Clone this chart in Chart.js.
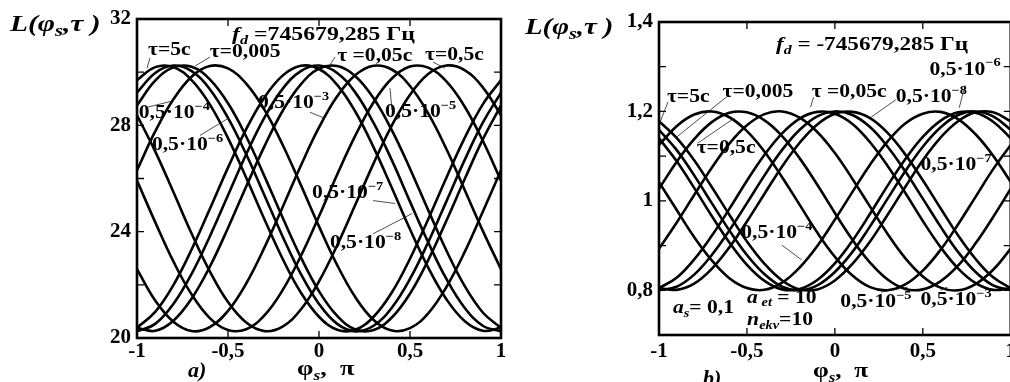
<!DOCTYPE html>
<html><head><meta charset="utf-8">
<script src="https://cdn.jsdelivr.net/npm/chart.js@4"></script>
<style>
html,body{margin:0;padding:0;background:#fff;overflow:hidden;width:1010px;height:382px;position:relative;}
canvas{position:absolute;top:0;}
#ca{left:0;} #cb{left:510px;}
</style></head><body>
<canvas id="ca" width="510" height="382"></canvas>
<canvas id="cb" width="510" height="382"></canvas>
<script>
// ---- data ----
const phi = [-1,-0.9,-0.8,-0.7,-0.6,-0.5,-0.4,-0.3,-0.2,-0.1,0,0.1,0.2,0.3,0.4,0.5,0.6,0.7,0.8,0.9,1];
const tauNames = ['τ=5c','τ=0,5c','τ=0,05c','τ=0,005','0,5·10⁻³','0,5·10⁻⁴','0,5·10⁻⁵','0,5·10⁻⁶','0,5·10⁻⁷','0,5·10⁻⁸'];

// panel a) f_d = 745679,285 Hz
const aTau5    = [29.70,30.19,30.19,29.70,28.79,27.52,26.03,24.47,22.98,21.71,20.80,20.31,20.31,20.80,21.71,22.98,24.47,26.03,27.52,28.79,29.70];
const aTau05   = [28.38,27.02,25.49,23.93,22.51,21.35,20.58,20.26,20.43,21.07,22.13,23.49,25.02,26.57,27.99,29.15,29.93,30.25,30.08,29.43,28.38];
const aTau005  = [20.38,20.27,20.65,21.48,22.68,24.14,25.70,27.21,28.54,29.54,30.13,30.23,29.85,29.02,27.82,26.37,24.81,23.29,21.96,20.96,20.38];
const aTau0005 = [29.23,29.97,30.25,30.04,29.36,28.28,26.91,25.37,23.82,22.41,21.28,20.53,20.25,20.46,21.14,22.22,23.60,25.14,26.69,28.10,29.23];
const aE3      = [22.59,21.41,20.61,20.26,20.41,21.02,22.05,23.40,24.92,26.48,27.92,29.09,29.89,30.24,30.10,29.48,28.45,27.11,25.58,24.03,22.59];
const aE4      = [26.31,27.77,28.98,29.83,30.23,30.14,29.57,28.59,27.27,25.76,24.20,22.74,21.53,20.68,20.28,20.37,20.93,21.92,23.23,24.75,26.31];
const aE5      = [25.92,24.36,22.88,21.64,20.75,20.30,20.33,20.85,21.80,23.08,24.58,26.15,27.62,28.87,29.76,30.21,30.17,29.65,28.71,27.42,25.92];
const aE6      = [28.75,29.68,30.18,30.20,29.73,28.83,27.58,26.09,24.53,23.04,21.76,20.83,20.32,20.30,20.77,21.67,22.93,24.41,25.97,27.47,28.75];
const aE7      = [20.39,20.98,21.99,23.33,24.85,26.41,27.86,29.05,29.87,30.24,30.12,29.52,28.51,27.17,25.65,24.09,22.65,21.46,20.64,20.27,20.39];
const aE8      = [20.25,20.53,21.28,22.41,23.82,25.37,26.91,28.29,29.37,30.04,30.25,29.97,29.23,28.09,26.69,25.13,23.60,22.22,21.14,20.46,20.25];

// panel b) f_d = -745679,285 Hz
const bTau5    = [1.178,1.141,1.091,1.031,0.969,0.909,0.859,0.822,0.802,0.802,0.822,0.859,0.909,0.969,1.031,1.091,1.141,1.178,1.198,1.198,1.178];
const bTau05   = [1.125,1.167,1.193,1.200,1.187,1.156,1.110,1.053,0.991,0.929,0.875,0.833,0.807,0.800,0.813,0.844,0.890,0.947,1.009,1.071,1.125];
const bTau005  = [0.805,0.828,0.869,0.922,0.982,1.045,1.103,1.151,1.184,1.199,1.195,1.172,1.131,1.078,1.018,0.955,0.897,0.849,0.816,0.801,0.805];
const bTau0005 = [1.159,1.114,1.057,0.995,0.934,0.879,0.836,0.808,0.800,0.811,0.841,0.886,0.943,1.005,1.066,1.121,1.164,1.192,1.200,1.189,1.159];
const bE3      = [0.893,0.951,1.013,1.074,1.128,1.169,1.194,1.200,1.186,1.154,1.107,1.049,0.987,0.926,0.872,0.831,0.806,0.800,0.814,0.846,0.893];
const bE4      = [1.042,0.980,0.919,0.867,0.827,0.805,0.801,0.817,0.851,0.899,0.958,1.020,1.081,1.133,1.173,1.195,1.199,1.183,1.149,1.101,1.042];
const bE5      = [1.027,1.087,1.138,1.176,1.197,1.198,1.180,1.145,1.095,1.036,0.973,0.913,0.862,0.824,0.803,0.802,0.820,0.855,0.905,0.964,1.027];
const bE6      = [1.140,1.089,1.029,0.966,0.907,0.857,0.821,0.802,0.803,0.823,0.860,0.911,0.971,1.034,1.093,1.143,1.179,1.198,1.197,1.177,1.140];
const bE7      = [0.805,0.801,0.815,0.848,0.896,0.954,1.016,1.077,1.130,1.171,1.195,1.199,1.185,1.152,1.104,1.046,0.984,0.923,0.870,0.829,0.805];
const bE8      = [0.800,0.808,0.835,0.879,0.934,0.995,1.057,1.114,1.159,1.189,1.200,1.192,1.165,1.121,1.066,1.005,0.943,0.886,0.841,0.811,0.800];

// tick labels
const xTickValues = [-1,-0.5,0,0.5,1];
const xTickLabels = ['-1','-0,5','0','0,5','1'];
const yTickValuesA = [20,24,28,32];
const yTickLabelsA = ['20','24','28','32'];
const yTickValuesB = [0.8,1.0,1.2,1.4];
const yTickLabelsB = ['0,8','1','1,2','1,4'];

// ---- drawing ----
const FF = "'Liberation Serif','Times New Roman',serif";
const seriesA = [aTau5,aTau05,aTau005,aTau0005,aE3,aE4,aE5,aE6,aE7,aE8];
const seriesB = [bTau5,bTau05,bTau005,bTau0005,bE3,bE4,bE5,bE6,bE7,bE8];

function makeDatasets(series){
  return series.map((arr,k)=>({
    label: tauNames[k],
    data: phi.map((x,i)=>({x:x, y:arr[i]})),
    borderColor:'#000', borderWidth:2.6, pointRadius:0, tension:0.4, fill:false
  }));
}

function drawRich(ctx, x, y, parts, size, sx){
  ctx.save();
  ctx.translate(x, y);
  ctx.scale(sx, 1);
  ctx.textBaseline = 'middle';
  ctx.textAlign = 'left';
  ctx.fillStyle = '#000';
  let cx = 0;
  for (const [t, st] of parts){
    const small = st.indexOf('sub') >= 0 || st.indexOf('sup') >= 0;
    const fs = small ? Math.round(size*0.68) : size;
    const it = st.indexOf('i') === 0;
    ctx.font = (it ? 'italic ' : '') + 'bold ' + fs + 'px ' + FF;
    const dy = st.indexOf('sub') >= 0 ? size*0.3 : (st.indexOf('sup') >= 0 ? -size*0.36 : 0);
    ctx.fillText(t, cx, dy);
    cx += ctx.measureText(t).width;
  }
  ctx.restore();
}
const pw = (e) => [['0,5·10',''],[e,'sup']];

function decoPlugin(cfg){
  return {
    id: 'deco',
    afterDatasetsDraw(chart){
      const ctx = chart.ctx;
      const {left,right,top,bottom} = chart.chartArea;
      const xs = chart.scales.x, ys = chart.scales.y;
      ctx.save();
      ctx.strokeStyle = '#000';
      ctx.lineWidth = 1.3;
      ctx.beginPath();
      ys.ticks.forEach(t => {
        const py = ys.getPixelForValue(t.value);
        if (py <= top+1 || py >= bottom-1) return;
        ctx.moveTo(left, py); ctx.lineTo(left+7, py);
        ctx.moveTo(right, py); ctx.lineTo(right-7, py);
      });
      xs.ticks.forEach(t => {
        const px = xs.getPixelForValue(t.value);
        if (px <= left+1 || px >= right-1) return;
        ctx.moveTo(px, bottom); ctx.lineTo(px, bottom-7);
        ctx.moveTo(px, top); ctx.lineTo(px, top+7);
      });
      ctx.stroke();
      ctx.lineWidth = 2.6;
      ctx.strokeRect(left, top, right-left, bottom-top);
      ctx.lineWidth = 0.8;
      ctx.strokeStyle = '#222';
      ctx.beginPath();
      cfg.lines.forEach(l => {
        ctx.moveTo(xs.getPixelForValue(l[0]), ys.getPixelForValue(l[1]));
        ctx.lineTo(xs.getPixelForValue(l[2]), ys.getPixelForValue(l[3]));
      });
      ctx.stroke();
      cfg.annots.forEach(a => {
        drawRich(ctx, xs.getPixelForValue(a.x), ys.getPixelForValue(a.y), a.p, a.size || 18, a.sx || 1.2);
      });
      cfg.titles.forEach(a => drawRich(ctx, a.px, a.py, a.p, a.size, a.sx));
      ctx.restore();
    }
  };
}

function makeChart(id, series, yMin, yMax, yStep, yVals, yLabs, pad, yW, xH, xPad, deco){
  return new Chart(document.getElementById(id), {
    type: 'line',
    data: { datasets: makeDatasets(series) },
    options: {
      responsive:false, animation:false, devicePixelRatio:1,
      layout:{ padding: pad },
      plugins:{ legend:{display:false}, tooltip:{enabled:false} },
      scales:{
        x:{ type:'linear', min:-1, max:1,
            grid:{display:false, drawTicks:false}, border:{display:false},
            afterFit:(s)=>{ s.height = xH; },
            ticks:{ stepSize:0.5, padding:xPad, color:'#000', maxRotation:0, autoSkip:false,
              font:{family:FF, weight:'bold', size:21},
              callback:(v)=>{ const i = xTickValues.findIndex(t=>Math.abs(t-v)<1e-6); return i>=0 ? xTickLabels[i] : ''; } } },
        y:{ min:yMin, max:yMax,
            grid:{display:false, drawTicks:false}, border:{display:false},
            afterFit:(s)=>{ s.width = yW; },
            ticks:{ stepSize:yStep, padding:6, color:'#000', autoSkip:false,
              font:{family:FF, weight:'bold', size:21},
              callback:(v)=>{ const i = yVals.findIndex(t=>Math.abs(t-v)<1e-6); return i>=0 ? yLabs[i] : ''; } } }
      }
    },
    plugins:[decoPlugin(deco)]
  });
}

const yTitle = [['L(φ','i'],['s','isub'],[',τ )','i']];
const xTitle = [['φ',''],['s','isub'],[',  π','']];

makeChart('ca', seriesA, 20, 32, 2, yTickValuesA, yTickLabelsA,
  {left:0, top:19, right:9, bottom:0}, 137, 44, 1, {
  annots:[
    {p:[['f','i'],['d','isub'],[' =745679,285 Гц','']], x:-0.478, y:31.40, size:19, sx:1.25},
    {p:[['τ=5c','']], x:-0.94, y:30.83},
    {p:[['τ=0,005','']], x:-0.60, y:30.75},
    {p:[['τ =0,05c','']], x:0.10, y:30.60},
    {p:[['τ=0,5c','']], x:0.582, y:30.64},
    {p:pw('−4'), x:-0.99, y:28.45},
    {p:pw('−6'), x:-0.918, y:27.25},
    {p:pw('−3'), x:-0.335, y:28.83},
    {p:pw('−5'), x:0.363, y:28.49},
    {p:pw('−7'), x:-0.038, y:25.43},
    {p:pw('−8'), x:0.06, y:23.55}
  ],
  lines:[
    [-0.929,30.53,-0.945,30.15],[-0.599,30.57,-0.681,30.23],[0.088,30.57,0.060,30.26],
    [0.626,30.38,0.692,30.15],[-0.945,28.68,-0.808,28.91],[-0.654,27.62,-0.5,28.26],
    [-0.049,28.49,0.033,28.26],[0.401,28.57,0.390,29.40],[0.297,25.17,0.418,25.06],
    [0.297,23.92,0.511,24.68]
  ],
  titles:[
    {p:yTitle, px:10, py:25, size:23, sx:1.28},
    {p:xTitle, px:297, py:370, size:21, sx:1.25},
    {p:[['a)','i']], px:188, py:372, size:20, sx:1.1}
  ]
});

makeChart('cb', seriesB, 0.7, 1.4, 0.1, yTickValuesB, yTickLabelsB,
  {left:0, top:22, right:6, bottom:0}, 149, 47, 4, {
  annots:[
    {p:[['f','i'],['d','isub'],[' = -745679,285 Гц','']], x:-0.335, y:1.349, size:19, sx:1.22},
    {p:[['τ=5c','']], x:-0.955, y:1.232},
    {p:[['τ=0,005','']], x:-0.639, y:1.243},
    {p:[['τ =0,05c','']], x:-0.132, y:1.243},
    {p:pw('−8'), x:0.346, y:1.232},
    {p:pw('−6'), x:0.538, y:1.293},
    {p:[['τ=0,5c','']], x:-0.786, y:1.118},
    {p:pw('−7'), x:0.487, y:1.080},
    {p:pw('−4'), x:-0.532, y:0.928},
    {p:pw('−5'), x:0.031, y:0.774},
    {p:pw('−3'), x:0.487, y:0.778},
    {p:[['a','i'],['s','isub'],['= 0,1','']], x:-0.921, y:0.760},
    {p:[['a','i'],[' et','isub'],[' = 10','']], x:-0.499, y:0.783},
    {p:[['n','i'],['ekv','isub'],['=10','']], x:-0.499, y:0.733}
  ],
  lines:[
    [-0.949,1.221,-0.994,1.176],[-0.617,1.232,-0.899,1.143],[-0.780,1.129,-0.572,1.185],
    [-0.121,1.232,-0.138,1.210],[0.346,1.226,0.206,1.187],[0.741,1.259,0.707,1.208],
    [-0.301,0.901,-0.189,0.868],[0.262,0.796,0.414,0.807],[0.6,0.8,0.64,0.807]
  ],
  titles:[
    {p:yTitle, px:15, py:28, size:23, sx:1.25},
    {p:xTitle, px:303, py:372, size:21, sx:1.2},
    {p:[['b)','i']], px:193, py:380, size:20, sx:1.1}
  ]
});
</script>
</body></html>
